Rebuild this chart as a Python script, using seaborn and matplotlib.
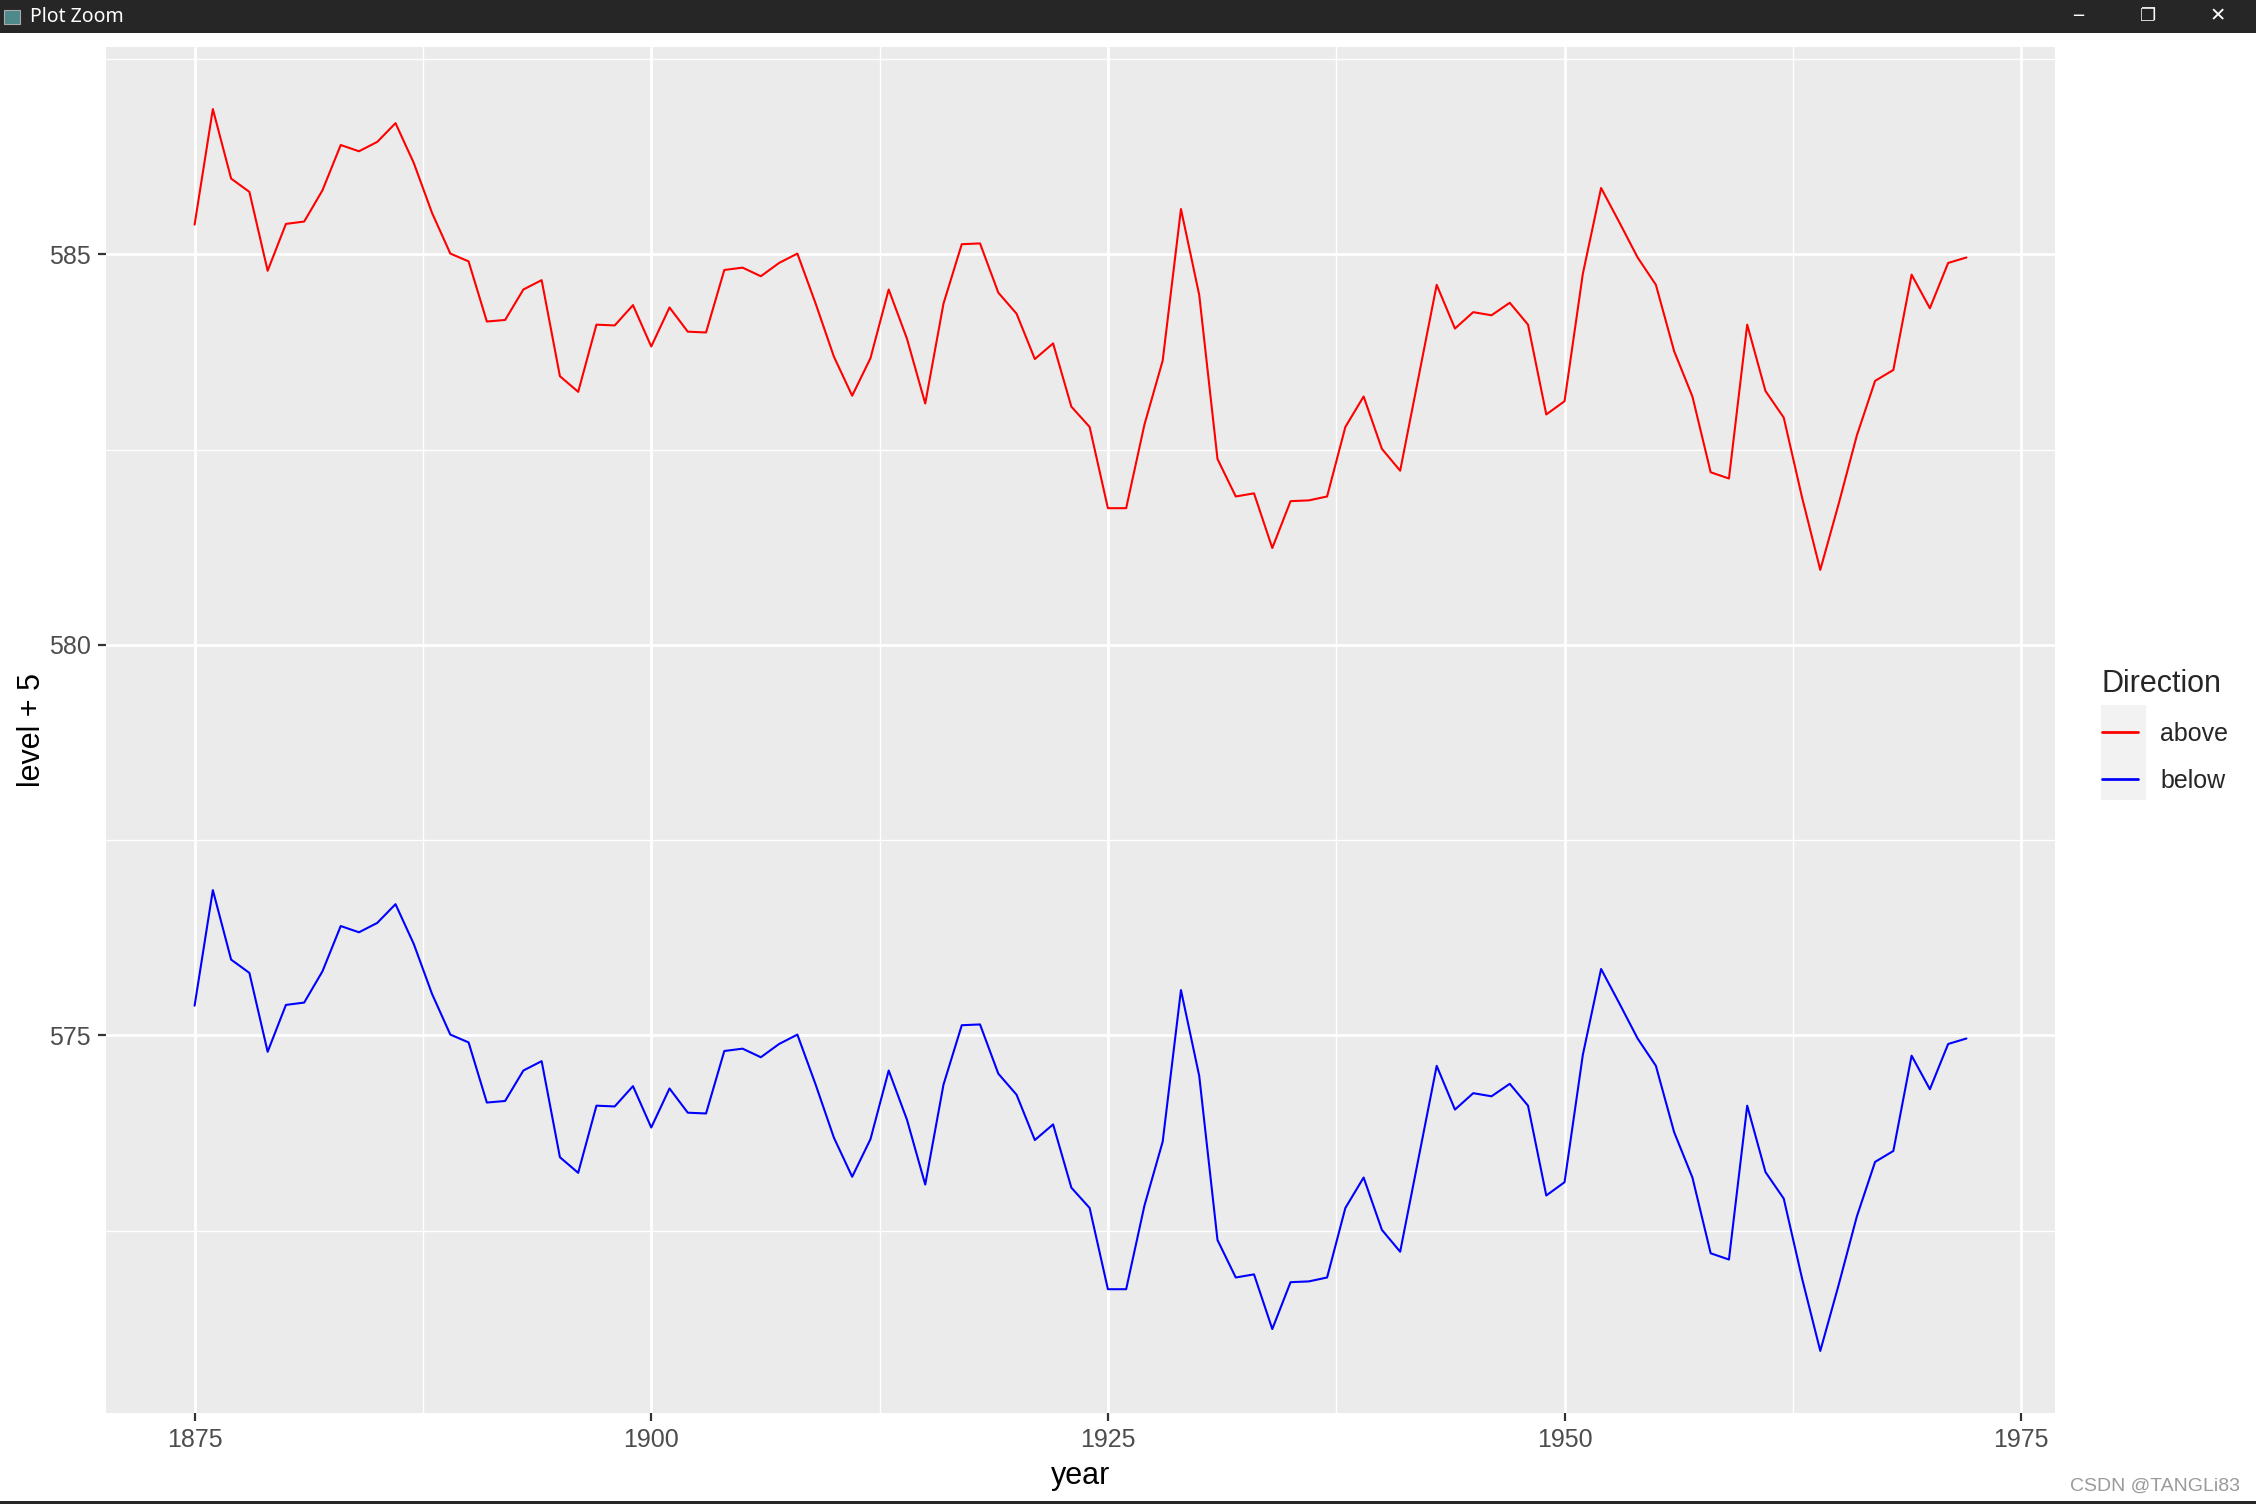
import numpy as np
import pandas as pd
import matplotlib
matplotlib.use("Agg")
import matplotlib.pyplot as plt
import seaborn as sns
from matplotlib.patches import Rectangle
from matplotlib.lines import Line2D
from matplotlib.ticker import FixedLocator

years = list(range(1875, 1973))
level = [580.38, 581.86, 580.97, 580.80, 579.79, 580.39, 580.42, 580.82, 581.40, 581.32,
         581.44, 581.68, 581.17, 580.53, 580.01, 579.91, 579.14, 579.16, 579.55, 579.67,
         578.44, 578.24, 579.10, 579.09, 579.35, 578.82, 579.32, 579.01, 579.00, 579.80,
         579.83, 579.72, 579.89, 580.01, 579.37, 578.69, 578.19, 578.67, 579.55, 578.92,
         578.09, 579.37, 580.13, 580.14, 579.51, 579.24, 578.66, 578.86, 578.05, 577.79,
         576.75, 576.75, 577.82, 578.64, 580.58, 579.48, 577.38, 576.90, 576.94, 576.24,
         576.84, 576.85, 576.90, 577.79, 578.18, 577.51, 577.23, 578.42, 579.61, 579.05,
         579.26, 579.22, 579.38, 579.10, 577.95, 578.12, 579.75, 580.85, 580.41, 579.96,
         579.61, 578.76, 578.18, 577.21, 577.13, 579.10, 578.25, 577.91, 576.89, 575.96,
         576.80, 577.68, 578.38, 578.52, 579.74, 579.31, 579.89, 579.96]
directions = ["above", "below"]
offsets = [5, -5]
colors = ["#FF0000", "#0000FF"]
x_breaks = [1875, 1900, 1925, 1950, 1975]
y_breaks = [575, 580, 585]

frames = []
for d, off in zip(directions, offsets):
    frames.append(pd.DataFrame({"year": years,
                                "value": [v + off for v in level],
                                "Direction": d}))
df = pd.concat(frames, ignore_index=True)

sns.set_theme(style="white")
plt.rcParams["font.family"] = ["Liberation Sans", "DejaVu Sans"]

W, H = 2256, 1504
fig = plt.figure(figsize=(W / 100, H / 100), dpi=100)
fig.patch.set_facecolor("white")

L, R, T, B = 106, 2055, 47, 1413
ax = fig.add_axes([L / W, 1 - B / H, (R - L) / W, (B - T) / H])
ax.set_facecolor("#EBEBEB")

sns.lineplot(data=df, x="year", y="value", hue="Direction",
             palette=dict(zip(directions, colors)), linewidth=1.5, ax=ax, legend=False)

xmin, xmax = min(years), max(years)
xr = xmax - xmin
ax.set_xlim(xmin - 0.05 * xr, xmax + 0.05 * xr)
vals = df["value"]
yr = vals.max() - vals.min()
ax.set_ylim(vals.min() - 0.05 * yr, vals.max() + 0.05 * yr)

ax.xaxis.set_major_locator(FixedLocator(x_breaks))
ax.xaxis.set_minor_locator(FixedLocator([b + 12.5 for b in x_breaks[:-1]]))
ax.yaxis.set_major_locator(FixedLocator(y_breaks))
ax.yaxis.set_minor_locator(FixedLocator([572.5, 577.5, 582.5, 587.5]))
ax.grid(which="major", color="white", linewidth=2.0)
ax.grid(which="minor", color="white", linewidth=1.0)
ax.set_axisbelow(True)
for s in ax.spines.values():
    s.set_visible(False)
ax.tick_params(which="major", length=6, width=1.6, color="#333333",
               labelsize=18, labelcolor="#4D4D4D", pad=5, bottom=True, left=True)
ax.tick_params(which="minor", length=0)
ax.set_xlabel("year", fontsize=22, color="black", labelpad=6)
ax.set_ylabel("level + 5", fontsize=22, color="black", labelpad=1)

# legend
fig.patches.append(Rectangle((2101 / W, 1 - 800 / H), 45 / W, 95 / H,
                             transform=fig.transFigure, facecolor="#F2F2F2",
                             edgecolor="none", zorder=-1))
handles = [Line2D([0, 1], [0, 0], color=c, linewidth=2.0) for c in colors]
leg = ax.legend(handles, directions, title="Direction", loc="upper left",
                bbox_to_anchor=(2079 / W, 1 - 647 / H), bbox_transform=fig.transFigure,
                frameon=False, fontsize=18, title_fontsize=22, handlelength=1.45,
                handletextpad=0.9, labelspacing=0.9, alignment="left")
leg.set_zorder(5)

# window chrome
fig.patches.append(Rectangle((0, 1 - 33 / H), 1, 33 / H, transform=fig.transFigure,
                             facecolor="#262626", edgecolor="none"))
fig.patches.append(Rectangle((0, 0), 1, 3 / H, transform=fig.transFigure,
                             facecolor="#262626", edgecolor="none"))
fig.patches.append(Rectangle((4 / W, 1 - 24 / H), 16 / W, 14 / H, transform=fig.transFigure,
                             facecolor="#4E8A8C", edgecolor="#AAAAAA", linewidth=0.8))
fig.text(30 / W, 1 - 17 / H, "Plot Zoom", color="white", fontsize=14,
         va="center", ha="left", family=["Noto Sans", "DejaVu Sans"])
fig.text(2078 / W, 1 - 16 / H, "─", color="white", fontsize=12, va="center", ha="center",
         family=["DejaVu Sans"])
fig.text(2148 / W, 1 - 16 / H, "❐", color="white", fontsize=13, va="center", ha="center",
         family=["DejaVu Sans"])
fig.text(2218 / W, 1 - 16 / H, "✕", color="white", fontsize=14, va="center", ha="center",
         family=["DejaVu Sans"])
fig.text(2240 / W, 1 - 1486 / H, "CSDN @TANGLi83", color="#9A9A9A", fontsize=14,
         va="center", ha="right")

fig.savefig("out.png", dpi=100)
